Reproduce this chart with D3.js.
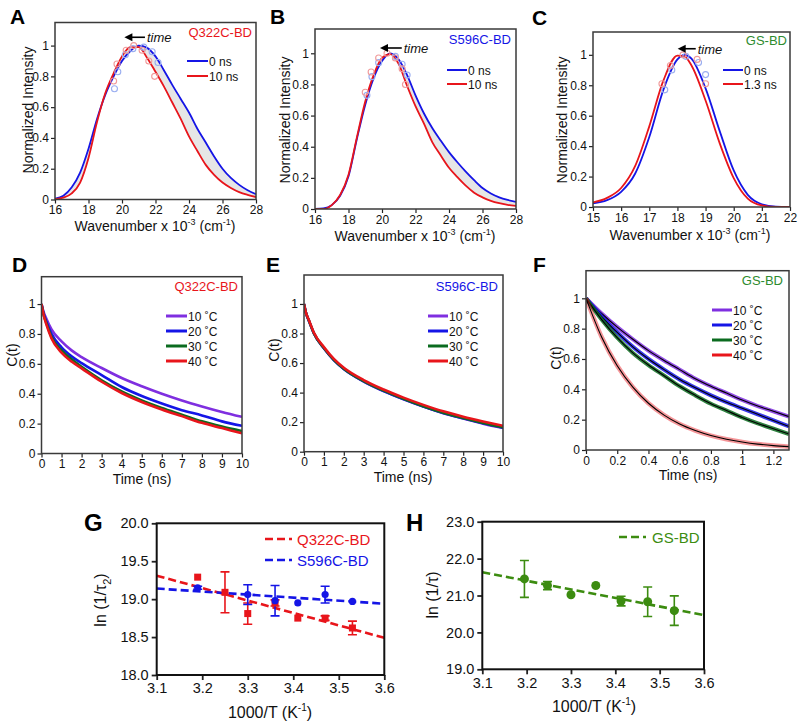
<!DOCTYPE html>
<html><head><meta charset="utf-8">
<script src="https://cdn.jsdelivr.net/npm/d3@7"></script>
<style>body{margin:0;background:#fff}svg{font-family:"Liberation Sans",Arial,Helvetica,sans-serif}</style>
</head><body><svg id="c" width="800" height="724"></svg>
<script>
// ---------- DATA ----------
// Panels A, B: wavenumber grid (x 10^3 cm^-1)
const wavAB = [16,16.5,17,17.5,18,18.5,19,19.5,20,20.5,21,21.5,22,22.5,23,23.5,24,24.5,25,25.5,26,26.5,27,27.5,28];
const aBlue = [0.005,0.025,0.08,0.175,0.33,0.52,0.68,0.8,0.9,0.965,1.0,0.985,0.93,0.84,0.745,0.655,0.565,0.46,0.37,0.28,0.2,0.14,0.095,0.06,0.035];
const aRed  = [0.002,0.012,0.04,0.11,0.27,0.5,0.69,0.82,0.93,0.99,0.99,0.92,0.83,0.735,0.63,0.525,0.41,0.315,0.225,0.16,0.11,0.075,0.048,0.03,0.016];
const bBlue = [0,0.004,0.025,0.085,0.21,0.45,0.67,0.84,0.95,1.0,0.96,0.86,0.73,0.615,0.52,0.44,0.365,0.3,0.24,0.185,0.135,0.1,0.075,0.058,0.045];
const bRed  = [0,0.0,0.025,0.09,0.22,0.46,0.69,0.86,0.97,0.995,0.93,0.79,0.66,0.55,0.43,0.345,0.265,0.205,0.15,0.105,0.075,0.052,0.037,0.027,0.02];
// open-circle markers near the peaks: [wavenumber, intensity]
const aCircBlue = [[19.55,0.72],[19.75,0.83],[20.2,0.94],[20.65,0.98],[21.3,0.99],[21.8,0.96],[22.15,0.89]];
const aCircRed  = [[19.5,0.77],[19.7,0.88],[20.25,0.97],[20.7,1.0],[21.2,0.97],[21.6,0.9],[21.95,0.8]];
const bCircBlue = [[19.1,0.73],[19.4,0.85],[19.8,0.94],[20.8,0.98],[21.2,0.93],[21.5,0.86]];
const bCircRed  = [[19.0,0.75],[19.35,0.88],[19.8,0.97],[20.3,1.0],[20.8,0.97],[21.2,0.9],[21.4,0.8]];
// Panel C
const wavC  = [15,15.5,16,16.5,17,17.5,18,18.25,18.5,19,19.5,20,20.5,21,21.5,22];
const cBlue = [0.024,0.045,0.1,0.22,0.46,0.77,0.97,1.0,0.975,0.78,0.5,0.24,0.08,0.018,0.002,0];
const cRed  = [0.03,0.06,0.125,0.27,0.53,0.83,0.995,0.99,0.93,0.7,0.42,0.19,0.055,0.01,0.0,0];
const cCircBlue = [[17.55,0.77],[17.8,0.9],[18.3,0.99],[18.75,0.95],[19.0,0.87]];
const cCircRed  = [[17.45,0.81],[17.75,0.93],[18.2,1.0],[18.7,0.97],[19.0,0.81]];
// Panels D/E: time (ns)
const tDE = [0,0.1,0.25,0.5,1,1.5,2,3,4,5,6,7,8,9,10];
const dPurple = [1,0.95,0.9,0.83,0.75,0.69,0.645,0.572,0.505,0.45,0.40,0.355,0.315,0.278,0.245];
const dBlue   = [1,0.94,0.88,0.8,0.71,0.65,0.605,0.525,0.445,0.385,0.335,0.29,0.255,0.215,0.185];
const dGreen  = [1,0.93,0.87,0.78,0.69,0.63,0.58,0.49,0.415,0.355,0.305,0.26,0.215,0.18,0.15];
const dRed    = [1,0.93,0.86,0.77,0.675,0.615,0.57,0.48,0.405,0.345,0.295,0.25,0.205,0.17,0.135];
const ePurple = [1,0.94,0.885,0.8,0.7,0.62,0.56,0.475,0.41,0.355,0.305,0.26,0.225,0.19,0.16];
const eBlue   = [1,0.94,0.885,0.8,0.7,0.62,0.56,0.476,0.411,0.356,0.306,0.262,0.226,0.192,0.162];
const eGreen  = [1,0.94,0.886,0.801,0.702,0.622,0.562,0.478,0.413,0.358,0.308,0.264,0.228,0.195,0.165];
const eRed    = [1,0.94,0.89,0.805,0.708,0.628,0.568,0.485,0.421,0.366,0.317,0.273,0.237,0.205,0.175];
// Panel F
const tF = [0,0.1,0.2,0.3,0.4,0.5,0.6,0.7,0.8,0.9,1.0,1.1,1.2,1.3];
const fPurple = [1,0.9,0.81,0.73,0.655,0.59,0.53,0.47,0.42,0.375,0.33,0.29,0.255,0.22];
const fBlue   = [1,0.88,0.775,0.68,0.6,0.53,0.465,0.41,0.36,0.315,0.275,0.235,0.195,0.155];
const fGreen  = [1,0.86,0.74,0.64,0.56,0.49,0.42,0.36,0.305,0.26,0.215,0.175,0.14,0.105];
const fRed    = [1,0.745,0.555,0.414,0.308,0.23,0.171,0.128,0.095,0.071,0.053,0.039,0.029,0.022];
const tempLabels = ["10 \u02DAC","20 \u02DAC","30 \u02DAC","40 \u02DAC"];
// Panel G
const gRedX = [3.19,3.25,3.30,3.36,3.41,3.47,3.53];
const gRedY = [19.29,19.09,18.81,18.95,18.75,18.75,18.62];
const gRedE = [0,0.27,0.14,0.04,0,0.03,0.09];
const gBlueX = [3.19,3.30,3.36,3.41,3.47,3.53];
const gBlueY = [19.15,19.06,18.98,18.95,19.06,18.97];
const gBlueE = [0.02,0.13,0.2,0,0.11,0];
const gRedFit = [[3.1,19.31],[3.6,18.49]];
const gBlueFit = [[3.1,19.14],[3.6,18.94]];
// Panel H
const hX = [3.195,3.247,3.30,3.356,3.413,3.473,3.533];
const hY = [21.45,21.27,21.02,21.27,20.85,20.83,20.59];
const hE = [0.5,0.11,0,0,0.13,0.4,0.4];
const hFit = [[3.1,21.63],[3.6,20.47]];

// ---------- COLOURS ----------
const BLUE="#1515e6", RED="#e8151b", PURPLE="#7f2fe0", DGREEN="#0b6b1f", GSGREEN="#2e8b2e", HGREEN="#3c8c10";

const svg = d3.select("#c");
let clipId=0;
const zip=(xs,ys)=>xs.map((v,i)=>[v,ys[i]]);

function panel(o){
  const x=d3.scaleLinear().domain(o.xd).range([o.l,o.r]);
  const y=d3.scaleLinear().domain(o.yd).range([o.b,o.t]);
  const g=svg.append("g");
  const id="clip"+(clipId++);
  g.append("clipPath").attr("id",id).append("rect").attr("x",o.l).attr("y",o.t).attr("width",o.r-o.l).attr("height",o.b-o.t);
  const fs=o.fs||12;
  const ax=g.append("g").attr("transform",`translate(0,${o.b})`)
    .call(d3.axisBottom(x).tickValues(o.xt).tickSize(o.ts||4).tickPadding(o.tp||2).tickFormat(o.xf||(d=>String(d))));
  const ay=g.append("g").attr("transform",`translate(${o.l},0)`)
    .call(d3.axisLeft(y).tickValues(o.yt).tickSize(o.ts||4).tickPadding(o.tp||2).tickFormat(o.yf||(d=>String(d))));
  [ax,ay].forEach(a=>{a.select(".domain").remove();
    a.selectAll("line").attr("stroke","#222").attr("stroke-width",o.tw||1.2);
    a.selectAll("text").attr("font-size",fs).attr("fill","#111").attr("font-family","Liberation Sans, Arial, sans-serif");});
  const plot=g.append("g").attr("clip-path",`url(#${id})`);
  const over=g.append("g");
  over.append("rect").attr("x",o.l).attr("y",o.t).attr("width",o.r-o.l).attr("height",o.b-o.t)
    .attr("fill","none").attr("stroke",o.fc||"#3a3a3a").attr("stroke-width",o.fw||1.5);
  return {x,y,g,plot,over,o};
}

function letter(t,x,y,size){
  svg.append("text").attr("x",x).attr("y",y).attr("font-size",size||21).attr("font-weight","bold").attr("fill","#000").text(t);
}
function title(p,t,color,x,y,size){
  p.over.append("text").attr("x",x).attr("y",y).attr("text-anchor","end").attr("font-size",size||13).attr("fill",color).text(t);
}
function wavTitle(cx,y){
  const t=svg.append("text").attr("x",cx).attr("y",y).attr("text-anchor","middle").attr("font-size",14).attr("fill","#111");
  t.append("tspan").text("Wavenumber x 10");
  t.append("tspan").attr("dy",-6).attr("font-size",9).text("-3");
  t.append("tspan").attr("dy",6).text(" (cm");
  t.append("tspan").attr("dy",-6).attr("font-size",9).text("-1");
  t.append("tspan").attr("dy",6).text(")");
}
function yTitle(t,x,cy,size){
  svg.append("text").attr("transform",`translate(${x},${cy}) rotate(-90)`).attr("text-anchor","middle").attr("font-size",size||14).attr("fill","#111").text(t);
}
function xTitle(t,cx,y,size){
  svg.append("text").attr("x",cx).attr("y",y).attr("text-anchor","middle").attr("font-size",size||14).attr("fill","#111").text(t);
}
function arrowTime(p,xh,xt,yv){
  const X1=p.x(xh),X2=p.x(xt),Y=p.y(yv);
  p.over.append("line").attr("x1",X1+6).attr("x2",X2).attr("y1",Y).attr("y2",Y).attr("stroke","#000").attr("stroke-width",1.6);
  p.over.append("path").attr("d",`M${X1},${Y}L${X1+8},${Y-4}L${X1+8},${Y+4}Z`).attr("fill","#000");
  p.over.append("text").attr("x",X2+2).attr("y",Y+5).attr("font-size",13).attr("font-style","italic").attr("fill","#111").text("time");
}
function legendLines(p,x0,x1,ys,colors,labels,w,fs){
  ys.forEach((yy,i)=>{
    p.over.append("line").attr("x1",x0).attr("x2",x1).attr("y1",yy).attr("y2",yy).attr("stroke",colors[i]).attr("stroke-width",w);
    p.over.append("text").attr("x",x1+1).attr("y",yy+4.5).attr("font-size",fs||12).attr("fill","#111").text(labels[i]);
  });
}
function drawCurve(p,pts,color,w,extra){
  const ln=d3.line().x(d=>p.x(d[0])).y(d=>p.y(d[1])).curve(d3.curveMonotoneX);
  const path=p.plot.append("path").attr("d",ln(pts)).attr("fill","none").attr("stroke",color).attr("stroke-width",w).attr("stroke-linejoin","round");
  if(extra) extra(path);
  return path;
}
function band(p,xs,a,b){
  const ar=d3.area().x((d,i)=>p.x(xs[i])).y0((d,i)=>p.y(a[i])).y1((d,i)=>p.y(b[i])).curve(d3.curveMonotoneX);
  p.plot.append("path").attr("d",ar(xs)).attr("fill","#e6e6e6").attr("stroke","#d4d4d4").attr("stroke-width",0.6);
}
function circles(p,pts,color){
  p.plot.selectAll(null).data(pts).enter().append("circle").attr("cx",d=>p.x(d[0])).attr("cy",d=>p.y(d[1])).attr("r",3)
    .attr("fill","none").attr("stroke",color).attr("stroke-width",1.1);
}

// ---------- PANEL A ----------
const pA=panel({l:55,r:256,t:22.5,b:199.5,xd:[16,28],yd:[0,1.15],xt:[16,18,20,22,24,26,28],yt:[0,0.2,0.4,0.6,0.8,1]});
band(pA,wavAB,aBlue,aRed);
drawCurve(pA,zip(wavAB,aBlue),BLUE,1.8); drawCurve(pA,zip(wavAB,aRed),RED,1.8);
circles(pA,aCircBlue,"#9aaef0"); circles(pA,aCircRed,"#f09a9a");
letter("A",10,24);
title(pA,"Q322C-BD",RED,252,37);
arrowTime(pA,20.14,21.37,1.054);
legendLines(pA,187,208,[61,76],[BLUE,RED],["0 ns","10 ns"],2,12);
wavTitle(155,231); yTitle("Normalized Intensity",33,110);

// ---------- PANEL B ----------
const pB=panel({l:315,r:516,t:29,b:209,xd:[16,28],yd:[0,1.156],xt:[16,18,20,22,24,26,28],yt:[0,0.2,0.4,0.6,0.8,1]});
band(pB,wavAB,bBlue,bRed);
drawCurve(pB,zip(wavAB,bBlue),BLUE,1.8); drawCurve(pB,zip(wavAB,bRed),RED,1.8);
circles(pB,bCircBlue,"#9aaef0"); circles(pB,bCircRed,"#f09a9a");
letter("B",270,24);
title(pB,"S596C-BD",BLUE,511,44);
arrowTime(pB,19.88,21.18,1.034);
legendLines(pB,447,467,[70,84],[BLUE,RED],["0 ns","10 ns"],2,12);
wavTitle(415,241); yTitle("Normalized Intensity",290,120);

// ---------- PANEL C ----------
const pC=panel({l:593,r:790,t:32,b:207,xd:[15,22],yd:[0,1.15],xt:[15,16,17,18,19,20,21,22],yt:[0,0.2,0.4,0.6,0.8,1]});
drawCurve(pC,zip(wavC,cBlue),BLUE,1.8); drawCurve(pC,zip(wavC,cRed),RED,1.8);
circles(pC,cCircBlue,"#9aaef0"); circles(pC,cCircRed,"#f09a9a");
letter("C",532,25);
title(pC,"GS-BD",GSGREEN,787,45);
arrowTime(pC,18.01,18.65,1.04);
legendLines(pC,723,743,[70,84],[BLUE,RED],["0 ns","1.3 ns"],2,12);
wavTitle(690,240); yTitle("Normalized Intensity",567,120);

// ---------- PANEL D ----------
const tempColors=[PURPLE,BLUE,DGREEN,RED];
const pD=panel({l:41.5,r:242,t:276.7,b:453.5,xd:[0,10],yd:[0,1.183],xt:d3.range(0,11),yt:[0,0.2,0.4,0.6,0.8,1]});
[dPurple,dBlue,dGreen,dRed].forEach((s,i)=>drawCurve(pD,zip(tDE,s),tempColors[i],2.6));
letter("D",12,272);
title(pD,"Q322C-BD",RED,238,291);
legendLines(pD,166,187,[316,331,346,361],tempColors,tempLabels,3,12);
xTitle("Time (ns)",142,484); yTitle("C(t)",17,355);

// ---------- PANEL E ----------
const pE=panel({l:304,r:503,t:275,b:451.7,xd:[0,10],yd:[0,1.196],xt:d3.range(0,11),yt:[0,0.2,0.4,0.6,0.8,1]});
[ePurple,eBlue,eGreen,eRed].forEach((s,i)=>drawCurve(pE,zip(tDE,s),tempColors[i],2.6));
letter("E",266,272);
title(pE,"S596C-BD",BLUE,498,291);
legendLines(pE,428,448,[316,331,346,361],tempColors,tempLabels,3,12);
xTitle("Time (ns)",403,482); yTitle("C(t)",279,350);

// ---------- PANEL F ----------
const pF=panel({l:586,r:789,t:270.7,b:450,xd:[0,1.3],yd:[0,1.182],xt:[0,0.2,0.4,0.6,0.8,1,1.2],yt:[0,0.2,0.4,0.6,0.8,1]});
[fPurple,fBlue,fGreen,fRed].forEach((s,i)=>{
  const pts=zip(tF,s);
  drawCurve(pF,pts,tempColors[i],i===3?4.5:4,p=>p.attr("stroke-opacity",i===3?0.45:0.85));
  drawCurve(pF,pts,"#000",1.1);
});
letter("F",533,272);
title(pF,"GS-BD",GSGREEN,783,285);
legendLines(pF,712,732,[310,325,340,355],tempColors,tempLabels,3,12);
xTitle("Time (ns)",688,480); yTitle("C(t)",561,358);

// ---------- PANEL G ----------
const pG=panel({l:156.7,r:384.3,t:523.3,b:675,xd:[3.1,3.6],yd:[18,20],xt:[3.1,3.2,3.3,3.4,3.5,3.6],yt:[18,18.5,19,19.5,20],
  xf:d3.format(".1f"),yf:d3.format(".1f"),fs:14.5,ts:5,tp:3,fc:"#111",fw:2,tw:1.8});
function fitLine(p,pts,color){
  p.plot.append("line").attr("x1",p.x(pts[0][0])).attr("y1",p.y(pts[0][1])).attr("x2",p.x(pts[1][0])).attr("y2",p.y(pts[1][1]))
    .attr("stroke",color).attr("stroke-width",2.6).attr("stroke-dasharray","8,4");
}
function errBars(p,X,Y,E,color){
  X.forEach((xv,i)=>{ if(E[i]<=0) return;
    const cx=p.x(xv),y1=p.y(Y[i]+E[i]),y2=p.y(Y[i]-E[i]);
    p.plot.append("line").attr("x1",cx).attr("x2",cx).attr("y1",y1).attr("y2",y2).attr("stroke",color).attr("stroke-width",1.6);
    [y1,y2].forEach(yy=>p.plot.append("line").attr("x1",cx-4.5).attr("x2",cx+4.5).attr("y1",yy).attr("y2",yy).attr("stroke",color).attr("stroke-width",1.6));
  });
}
fitLine(pG,gRedFit,RED); fitLine(pG,gBlueFit,BLUE);
errBars(pG,gRedX,gRedY,gRedE,RED); errBars(pG,gBlueX,gBlueY,gBlueE,BLUE);
gRedX.forEach((xv,i)=>pG.plot.append("rect").attr("x",pG.x(xv)-3.5).attr("y",pG.y(gRedY[i])-3.5).attr("width",7).attr("height",7).attr("fill",RED));
gBlueX.forEach((xv,i)=>pG.plot.append("circle").attr("cx",pG.x(xv)).attr("cy",pG.y(gBlueY[i])).attr("r",3.6).attr("fill",BLUE));
[[539,"Q322C-BD",RED],[560,"S596C-BD",BLUE]].forEach(([yy,t,c])=>{
  pG.over.append("line").attr("x1",265).attr("x2",292).attr("y1",yy).attr("y2",yy).attr("stroke",c).attr("stroke-width",2.6).attr("stroke-dasharray","8,4");
  pG.over.append("text").attr("x",297).attr("y",yy+5.5).attr("font-size",15).attr("fill",c).text(t);
});
letter("G",84,531,24);
{ const t=svg.append("text").attr("x",270).attr("y",718).attr("text-anchor","middle").attr("font-size",16).attr("fill","#111");
  t.append("tspan").text("1000/T (K"); t.append("tspan").attr("dy",-7).attr("font-size",10).text("-1"); t.append("tspan").attr("dy",7).text(")"); }
{ const t=svg.append("text").attr("transform","translate(106,600) rotate(-90)").attr("text-anchor","middle").attr("font-size",16).attr("fill","#111");
  t.append("tspan").text("ln (1/\u03C4"); t.append("tspan").attr("dy",5).attr("font-size",11).text("2"); t.append("tspan").attr("dy",-5).text(")"); }

// ---------- PANEL H ----------
const pH=panel({l:482.3,r:704,t:521.7,b:669.3,xd:[3.1,3.6],yd:[19,23],xt:[3.1,3.2,3.3,3.4,3.5,3.6],yt:[19,20,21,22,23],
  xf:d3.format(".1f"),yf:d3.format(".1f"),fs:14.5,ts:5,tp:3,fc:"#111",fw:2,tw:1.8});
fitLine(pH,hFit,HGREEN);
errBars(pH,hX,hY,hE,HGREEN);
hX.forEach((xv,i)=>pH.plot.append("circle").attr("cx",pH.x(xv)).attr("cy",pH.y(hY[i])).attr("r",4.5).attr("fill",HGREEN));
pH.over.append("line").attr("x1",619).attr("x2",646).attr("y1",537).attr("y2",537).attr("stroke",HGREEN).attr("stroke-width",2.6).attr("stroke-dasharray","8,4");
pH.over.append("text").attr("x",652).attr("y",542.5).attr("font-size",15).attr("fill",HGREEN).text("GS-BD");
letter("H",406,531,24);
{ const t=svg.append("text").attr("x",594).attr("y",712).attr("text-anchor","middle").attr("font-size",16).attr("fill","#111");
  t.append("tspan").text("1000/T (K"); t.append("tspan").attr("dy",-7).attr("font-size",10).text("-1"); t.append("tspan").attr("dy",7).text(")"); }
yTitle("ln (1/\u03C4)",438,595,16);
</script></body></html>
